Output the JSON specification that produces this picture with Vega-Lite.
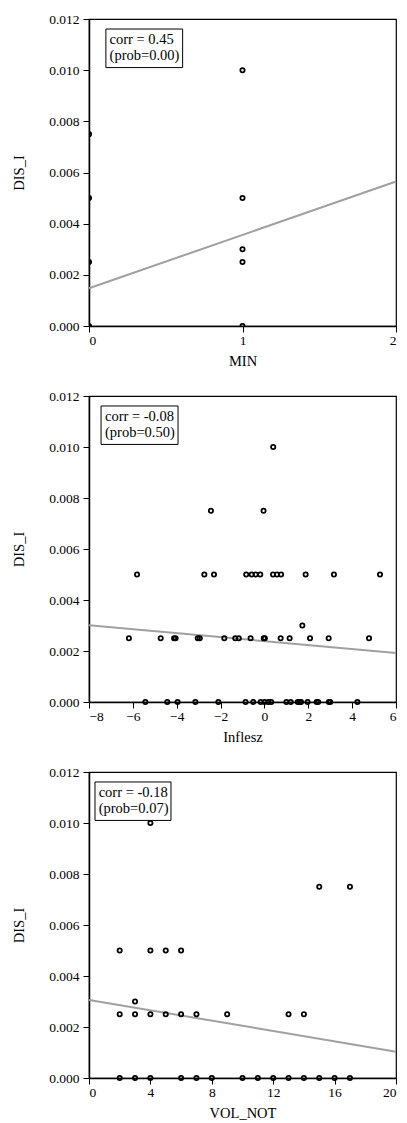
{
  "$schema": "https://vega.github.io/schema/vega-lite/v6.json",
  "padding": {"left": 11, "top": 11, "right": 5, "bottom": 0},
  "spacing": 70,
  "bounds": "flush",
  "config": {
    "font": "Liberation Serif",
    "view": {"stroke": "black", "strokeWidth": 1.2},
    "axis": {
      "domainColor": "black", "domainWidth": 1.5, "tickColor": "black", "tickSize": 6, "tickWidth": 1,
      "labelColor": "black", "labelFontSize": 13.5, "labelFont": "Liberation Serif",
      "titleColor": "black", "titleFontSize": 14.5, "titleFontWeight": "normal", "titleFont": "Liberation Serif",
      "grid": false
    },
    "axisY": {"titlePadding": 22, "labelPadding": 4, "values": [0, 0.002, 0.004, 0.006, 0.008, 0.01, 0.012], "format": ".3f"},
    "axisX": {"labelPadding": 1.5, "titlePadding": 7, "format": "d"},
    "text": {"fontWeight": "normal"}
  },
  "datasets": {
    "p1": [
      {"MIN": 0, "DIS_I": 0.0075}, {"MIN": 0, "DIS_I": 0.005}, {"MIN": 0, "DIS_I": 0.0025}, {"MIN": 0, "DIS_I": 0},
      {"MIN": 1, "DIS_I": 0.01}, {"MIN": 1, "DIS_I": 0.005}, {"MIN": 1, "DIS_I": 0.003}, {"MIN": 1, "DIS_I": 0.0025}, {"MIN": 1, "DIS_I": 0}
    ],
    "p2": [
      {"Inflesz": 0.40, "DIS_I": 0.01},
      {"Inflesz": -2.44, "DIS_I": 0.0075}, {"Inflesz": -0.04, "DIS_I": 0.0075},
      {"Inflesz": -5.81, "DIS_I": 0.005}, {"Inflesz": -2.74, "DIS_I": 0.005}, {"Inflesz": -2.30, "DIS_I": 0.005},
      {"Inflesz": -0.83, "DIS_I": 0.005}, {"Inflesz": -0.58, "DIS_I": 0.005}, {"Inflesz": -0.40, "DIS_I": 0.005},
      {"Inflesz": -0.19, "DIS_I": 0.005}, {"Inflesz": 0.39, "DIS_I": 0.005}, {"Inflesz": 0.57, "DIS_I": 0.005},
      {"Inflesz": 0.76, "DIS_I": 0.005}, {"Inflesz": 1.88, "DIS_I": 0.005}, {"Inflesz": 3.17, "DIS_I": 0.005},
      {"Inflesz": 5.27, "DIS_I": 0.005},
      {"Inflesz": 1.73, "DIS_I": 0.003},
      {"Inflesz": -6.18, "DIS_I": 0.0025}, {"Inflesz": -4.73, "DIS_I": 0.0025}, {"Inflesz": -4.12, "DIS_I": 0.0025},
      {"Inflesz": -4.05, "DIS_I": 0.0025}, {"Inflesz": -3.04, "DIS_I": 0.0025}, {"Inflesz": -2.95, "DIS_I": 0.0025},
      {"Inflesz": -1.83, "DIS_I": 0.0025}, {"Inflesz": -1.33, "DIS_I": 0.0025}, {"Inflesz": -1.17, "DIS_I": 0.0025},
      {"Inflesz": -0.63, "DIS_I": 0.0025}, {"Inflesz": -0.03, "DIS_I": 0.0025}, {"Inflesz": 0.02, "DIS_I": 0.0025},
      {"Inflesz": 0.74, "DIS_I": 0.0025}, {"Inflesz": 1.15, "DIS_I": 0.0025}, {"Inflesz": 2.08, "DIS_I": 0.0025},
      {"Inflesz": 2.93, "DIS_I": 0.0025}, {"Inflesz": 4.77, "DIS_I": 0.0025},
      {"Inflesz": -5.43, "DIS_I": 0}, {"Inflesz": -4.43, "DIS_I": 0}, {"Inflesz": -3.96, "DIS_I": 0},
      {"Inflesz": -3.15, "DIS_I": 0}, {"Inflesz": -2.10, "DIS_I": 0}, {"Inflesz": -0.86, "DIS_I": 0},
      {"Inflesz": -0.51, "DIS_I": 0}, {"Inflesz": -0.17, "DIS_I": 0}, {"Inflesz": 0.01, "DIS_I": 0},
      {"Inflesz": 0.18, "DIS_I": 0}, {"Inflesz": 0.31, "DIS_I": 0}, {"Inflesz": 1.0, "DIS_I": 0},
      {"Inflesz": 1.2, "DIS_I": 0}, {"Inflesz": 1.52, "DIS_I": 0}, {"Inflesz": 1.6, "DIS_I": 0},
      {"Inflesz": 1.67, "DIS_I": 0}, {"Inflesz": 1.97, "DIS_I": 0}, {"Inflesz": 2.38, "DIS_I": 0},
      {"Inflesz": 2.45, "DIS_I": 0}, {"Inflesz": 2.94, "DIS_I": 0}, {"Inflesz": 3.0, "DIS_I": 0},
      {"Inflesz": 4.24, "DIS_I": 0}
    ],
    "p3": [
      {"VOL_NOT": 4, "DIS_I": 0.01},
      {"VOL_NOT": 15, "DIS_I": 0.0075}, {"VOL_NOT": 17, "DIS_I": 0.0075},
      {"VOL_NOT": 2, "DIS_I": 0.005}, {"VOL_NOT": 4, "DIS_I": 0.005}, {"VOL_NOT": 5, "DIS_I": 0.005}, {"VOL_NOT": 6, "DIS_I": 0.005},
      {"VOL_NOT": 3, "DIS_I": 0.003},
      {"VOL_NOT": 2, "DIS_I": 0.0025}, {"VOL_NOT": 3, "DIS_I": 0.0025}, {"VOL_NOT": 4, "DIS_I": 0.0025},
      {"VOL_NOT": 5, "DIS_I": 0.0025}, {"VOL_NOT": 6, "DIS_I": 0.0025}, {"VOL_NOT": 7, "DIS_I": 0.0025},
      {"VOL_NOT": 9, "DIS_I": 0.0025}, {"VOL_NOT": 13, "DIS_I": 0.0025}, {"VOL_NOT": 14, "DIS_I": 0.0025},
      {"VOL_NOT": 2, "DIS_I": 0}, {"VOL_NOT": 3, "DIS_I": 0}, {"VOL_NOT": 4, "DIS_I": 0}, {"VOL_NOT": 6, "DIS_I": 0},
      {"VOL_NOT": 7, "DIS_I": 0}, {"VOL_NOT": 8, "DIS_I": 0}, {"VOL_NOT": 10, "DIS_I": 0}, {"VOL_NOT": 11, "DIS_I": 0},
      {"VOL_NOT": 12, "DIS_I": 0}, {"VOL_NOT": 13, "DIS_I": 0}, {"VOL_NOT": 14, "DIS_I": 0}, {"VOL_NOT": 15, "DIS_I": 0},
      {"VOL_NOT": 16, "DIS_I": 0}, {"VOL_NOT": 17, "DIS_I": 0}
    ],
    "ann": [
      {"panel": 1, "text1": "corr = 0.45", "text2": "(prob=0.00)"},
      {"panel": 2, "text1": "corr = -0.08", "text2": "(prob=0.50)"},
      {"panel": 3, "text1": "corr = -0.18", "text2": "(prob=0.07)"}
    ]
  },
  "vconcat": [
    {
      "width": 307, "height": 307,
      "layer": [
        {"data": {"name": "p1"}, "mark": {"type": "point", "shape": "circle", "filled": false, "color": "black", "size": 18, "strokeWidth": 1.8, "opacity": 1, "clip": true},
         "encoding": {
          "x": {"field": "MIN", "type": "quantitative", "scale": {"domain": [0, 2], "nice": false, "zero": false}, "axis": {"values": [0, 1, 2], "title": "MIN"}},
          "y": {"field": "DIS_I", "type": "quantitative", "scale": {"domain": [0, 0.012], "nice": false}, "axis": {"title": "DIS_I"}}
         }},
        {"data": {"name": "ann"}, "transform": [{"filter": "datum.panel == 1"}], "mark": {"type": "rule", "color": "#a0a0a0", "strokeWidth": 2},
         "encoding": {"x": {"datum": 0}, "y": {"datum": 0.001474}, "x2": {"datum": 2}, "y2": {"datum": 0.005648}}},
        {"data": {"name": "ann"}, "transform": [{"filter": "datum.panel == 1"}], "mark": {"type": "rect", "fill": "white", "stroke": "black", "strokeWidth": 1},
         "encoding": {"x": {"datum": 0.11}, "x2": {"datum": 0.61}, "y": {"datum": 0.011608}, "y2": {"datum": 0.010101}}},
        {"data": {"name": "ann"}, "transform": [{"filter": "datum.panel == 1"}], "mark": {"type": "text", "align": "left", "baseline": "alphabetic", "fontSize": 14.5, "color": "black"},
         "encoding": {"x": {"datum": 0.134}, "y": {"datum": 0.011021}, "text": {"field": "text1"}}},
        {"data": {"name": "ann"}, "transform": [{"filter": "datum.panel == 1"}], "mark": {"type": "text", "align": "left", "baseline": "alphabetic", "fontSize": 14.5, "color": "black"},
         "encoding": {"x": {"datum": 0.134}, "y": {"datum": 0.010395}, "text": {"field": "text2"}}}
      ]
    },
    {
      "width": 307, "height": 306,
      "layer": [
        {"data": {"name": "ann"}, "transform": [{"filter": "datum.panel == 2"}], "mark": {"type": "rule", "color": "#a0a0a0", "strokeWidth": 2},
         "encoding": {
          "x": {"datum": -8, "type": "quantitative", "scale": {"domain": [-8, 6], "nice": false, "zero": false}, "axis": {"values": [-8, -6, -4, -2, 0, 2, 4, 6], "title": "Inflesz"}},
          "y": {"datum": 0.003008, "type": "quantitative", "scale": {"domain": [0, 0.012], "nice": false}, "axis": {"title": "DIS_I"}},
          "x2": {"datum": 6}, "y2": {"datum": 0.001922}}},
        {"data": {"name": "p2"}, "mark": {"type": "point", "shape": "circle", "filled": false, "color": "black", "size": 18, "strokeWidth": 1.8, "opacity": 1},
         "encoding": {
          "x": {"field": "Inflesz", "type": "quantitative"},
          "y": {"field": "DIS_I", "type": "quantitative"}
         }},
        {"data": {"name": "ann"}, "transform": [{"filter": "datum.panel == 2"}], "mark": {"type": "rect", "fill": "white", "stroke": "black", "strokeWidth": 1},
         "encoding": {"x": {"datum": -7.45}, "x2": {"datum": -3.94}, "y": {"datum": 0.011608}, "y2": {"datum": 0.010101}}},
        {"data": {"name": "ann"}, "transform": [{"filter": "datum.panel == 2"}], "mark": {"type": "text", "align": "left", "baseline": "alphabetic", "fontSize": 14.5, "color": "black"},
         "encoding": {"x": {"datum": -7.27}, "y": {"datum": 0.011021}, "text": {"field": "text1"}}},
        {"data": {"name": "ann"}, "transform": [{"filter": "datum.panel == 2"}], "mark": {"type": "text", "align": "left", "baseline": "alphabetic", "fontSize": 14.5, "color": "black"},
         "encoding": {"x": {"datum": -7.27}, "y": {"datum": 0.010395}, "text": {"field": "text2"}}}
      ]
    },
    {
      "width": 307, "height": 306,
      "layer": [
        {"data": {"name": "ann"}, "transform": [{"filter": "datum.panel == 3"}], "mark": {"type": "rule", "color": "#a0a0a0", "strokeWidth": 2},
         "encoding": {
          "x": {"datum": 0, "type": "quantitative", "scale": {"domain": [0, 20], "nice": false, "zero": false}, "axis": {"values": [0, 4, 8, 12, 16, 20], "title": "VOL_NOT"}},
          "y": {"datum": 0.003059, "type": "quantitative", "scale": {"domain": [0, 0.012], "nice": false}, "axis": {"title": "DIS_I"}},
          "x2": {"datum": 20}, "y2": {"datum": 0.001033}}},
        {"data": {"name": "p3"}, "mark": {"type": "point", "shape": "circle", "filled": false, "color": "black", "size": 18, "strokeWidth": 1.8, "opacity": 1},
         "encoding": {
          "x": {"field": "VOL_NOT", "type": "quantitative"},
          "y": {"field": "DIS_I", "type": "quantitative"}
         }},
        {"data": {"name": "ann"}, "transform": [{"filter": "datum.panel == 3"}], "mark": {"type": "rect", "fill": "white", "stroke": "black", "strokeWidth": 1},
         "encoding": {"x": {"datum": 0.39}, "x2": {"datum": 5.34}, "y": {"datum": 0.011608}, "y2": {"datum": 0.010101}}},
        {"data": {"name": "ann"}, "transform": [{"filter": "datum.panel == 3"}], "mark": {"type": "text", "align": "left", "baseline": "alphabetic", "fontSize": 14.5, "color": "black"},
         "encoding": {"x": {"datum": 0.63}, "y": {"datum": 0.011021}, "text": {"field": "text1"}}},
        {"data": {"name": "ann"}, "transform": [{"filter": "datum.panel == 3"}], "mark": {"type": "text", "align": "left", "baseline": "alphabetic", "fontSize": 14.5, "color": "black"},
         "encoding": {"x": {"datum": 0.63}, "y": {"datum": 0.010395}, "text": {"field": "text2"}}}
      ]
    }
  ]
}
